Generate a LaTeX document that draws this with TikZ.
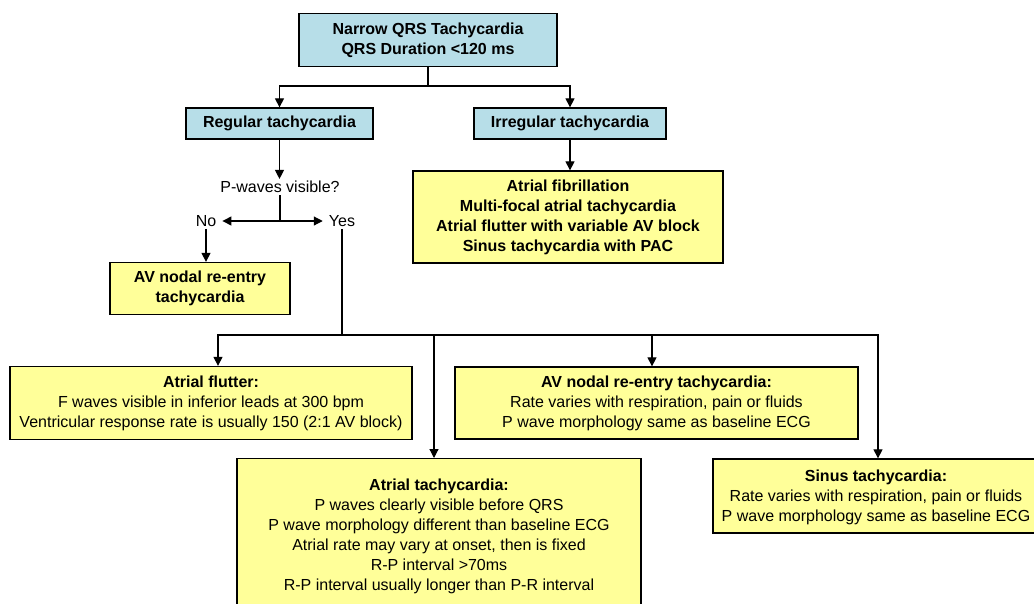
\documentclass[tikz,border=0pt]{standalone}
\usepackage{fontspec}
\setmainfont{Liberation Sans}
\usetikzlibrary{arrows.meta}
\definecolor{boxcyan}{HTML}{B7DEE8}
\definecolor{boxyellow}{HTML}{FFFF99}
\tikzset{
  every node/.style={font=\fontsize{16}{20}\selectfont},
  cbox/.style={draw=black, line width=1.3pt, fill=boxcyan, align=center, inner sep=0pt, font=\fontsize{16}{20}\selectfont\bfseries},
  ybox/.style={draw=black, line width=1.3pt, fill=boxyellow, align=center, inner sep=0pt},
  lbl/.style={inner xsep=6pt, inner ysep=2pt},
  conn/.style={line width=1.2pt},
  arr/.style={conn, -{Triangle[width=9pt,length=9pt]}},
}
\begin{document}
\begin{tikzpicture}[x=1pt,y=-1pt]
\clip (0,0) rectangle (1034,603);
\fill[white] (0,0) rectangle (1034,603);

\node[cbox, minimum width=258, minimum height=53] (top) at (428,40)
  {Narrow QRS Tachycardia\\QRS Duration {<}120 ms};
\node[cbox, minimum width=187, minimum height=31] (reg) at (279.5,123.5) {Regular tachycardia};
\node[cbox, minimum width=192, minimum height=31] (irr) at (570,123.5) {Irregular tachycardia};

\node[ybox, minimum width=310, minimum height=92, font=\fontsize{16}{20}\selectfont\bfseries] (af) at (568,217)
  {Atrial fibrillation\\Multi-focal atrial tachycardia\\Atrial flutter with variable AV block\\Sinus tachycardia with PAC};

\node[inner sep=2pt] (pw) at (280,187) {P-waves visible?};
\node[lbl] (no) at (206,221) {No};
\node[lbl] (yes) at (342,221) {Yes};

\node[ybox, minimum width=180, minimum height=52, font=\fontsize{16}{20}\selectfont\bfseries] (avs) at (200,288.5)
  {AV nodal re-entry\\tachycardia};

\node[ybox, minimum width=402, minimum height=73] (fl) at (211,403)
  {\textbf{Atrial flutter:}\\F waves visible in inferior leads at 300 bpm\\Ventricular response rate is usually 150 (2:1 AV block)};
\node[ybox, minimum width=403, minimum height=72] (avn) at (656.5,403)
  {\textbf{AV nodal re-entry tachycardia:}\\Rate varies with respiration, pain or fluids\\P wave morphology same as baseline ECG};
\node[ybox, minimum width=404, minimum height=155, anchor=north] (at) at (439,458)
  {\textbf{Atrial tachycardia:}\\P waves clearly visible before QRS\\P wave morphology different than baseline ECG\\Atrial rate may vary at onset, then is fixed\\R-P interval {>}70ms\\R-P interval usually longer than P-R interval};
\node[ybox, minimum width=326, minimum height=74, text depth=-2pt] (sin) at (876,496)
  {\textbf{Sinus tachycardia:}\\Rate varies with respiration, pain or fluids\\P wave morphology same as baseline ECG};

\coordinate (j1) at (428,86);
\draw[conn] (top.south) -- (j1);
\draw[arr] (j1) -| (reg.north);
\draw[arr] (j1) -| (irr.north);
\draw[arr] (irr.south) -- (af.north -| irr.south);
\draw[arr] (reg.south) -- (reg.south |- pw.north);

\coordinate (j2) at (280,221);
\draw[conn] (pw.south) -- (j2);
\draw[arr] (j2) -- (no.east);
\draw[arr] (j2) -- (yes.west);
\draw[arr] (no.south) -- (no.south |- avs.north);

\coordinate (j3) at (342,335);
\draw[conn] (yes.south) -- (j3);
\draw[arr] (j3) -| ([xshift=7pt]fl.north);
\draw[arr] (j3) -| ([xshift=-5pt]at.north);
\draw[arr] (j3) -| ([xshift=-4.5pt]avn.north);
\draw[arr] (j3) -| ([xshift=2pt]sin.north);
\end{tikzpicture}
\end{document}
